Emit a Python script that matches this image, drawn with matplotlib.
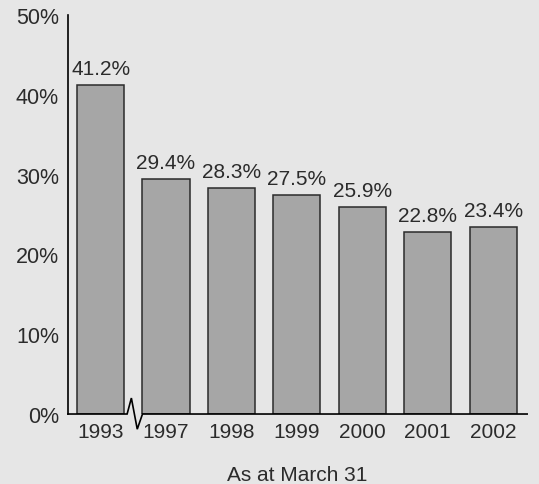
import matplotlib
matplotlib.use("Agg")
import matplotlib.pyplot as plt

years = ["1993", "1997", "1998", "1999", "2000", "2001", "2002"]
shares = [41.2, 29.4, 28.3, 27.5, 25.9, 22.8, 23.4]
y_ticks = [0, 10, 20, 30, 40, 50]

plt.rcParams['font.family'] = ['Liberation Sans', 'DejaVu Sans']
bg = "#e6e6e6"
txt = "#2b2b2b"
fs = 15

fig = plt.figure(figsize=(5.39, 4.85), dpi=100, facecolor=bg)
ax = fig.add_axes([0.126, 0.1443, 0.852, 0.8227])
ax.set_facecolor(bg)

x = list(range(len(years)))
ax.bar(x, shares, width=0.72, color="#a6a6a6", edgecolor="#2b2b2b", linewidth=1.1, zorder=2)

for xi, v in zip(x, shares):
    ax.annotate(f"{v}%", (xi, v), xytext=(0, 5), textcoords="offset points",
                ha="center", va="bottom", fontsize=fs, color=txt)

ax.set_xlim(-0.5, 6.52)
ax.set_ylim(0, 50)
ax.set_yticks(y_ticks)
ax.set_yticklabels([f"{t}%" for t in y_ticks])
ax.set_xticks(x)
ax.set_xticklabels(years)
ax.tick_params(axis="both", length=0, labelsize=fs, labelcolor=txt)
ax.tick_params(axis="y", labelsize=15.5, pad=6.5)
ax.tick_params(axis="x", pad=5.5)

for s in ["top", "right", "bottom"]:
    ax.spines[s].set_visible(False)
ax.spines["left"].set_color("black")
ax.spines["left"].set_linewidth(1.2)

# baseline with a break between 1993 and 1997
ax.plot([-0.5, 0.405, 0.47, 0.56, 0.64, 6.52], [0, 0, 2.0, -1.9, 0, 0],
        color="black", lw=1.2, clip_on=False, zorder=3, solid_joinstyle="miter")

ax.set_xlabel("As at March 31", fontsize=fs, color=txt, labelpad=17.5)

fig.savefig("out.png", dpi=100, facecolor=bg)
